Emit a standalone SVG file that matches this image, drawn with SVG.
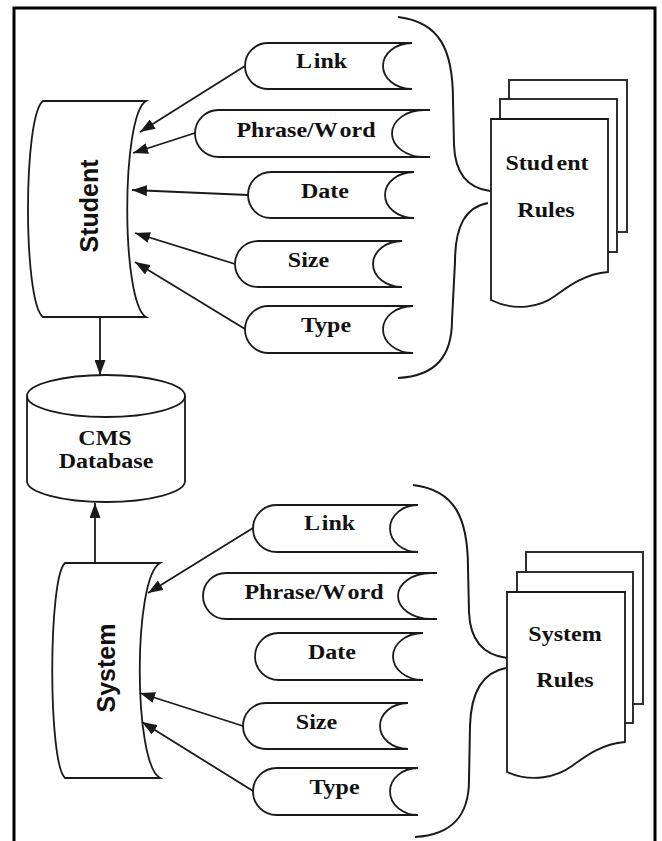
<svg xmlns="http://www.w3.org/2000/svg" width="662" height="841" viewBox="0 0 662 841">
  <style>
    .shape { fill: #ffffff; stroke: #1a1a1a; stroke-width: 1.8; }
    .line { fill: none; stroke: #1a1a1a; stroke-width: 1.8; }
    .brace { fill: none; stroke: #1a1a1a; stroke-width: 2; }
    .frame { fill: none; stroke: #000000; stroke-width: 3; }
    .lbl { font-family: "Liberation Serif", "Times New Roman", serif; font-weight: bold; font-size: 20px; fill: #111111; text-anchor: middle; }
    .side { font-family: "Liberation Sans", Arial, sans-serif; font-weight: bold; font-size: 25px; fill: #111111; text-anchor: middle; }
    .conn { fill: none; stroke: #1a1a1a; stroke-width: 1.8; marker-end: url(#arrow); }
  </style>
  <defs>
    <marker id="arrow" viewBox="0 0 15 11" refX="15" refY="5.5" markerWidth="15" markerHeight="11" markerUnits="userSpaceOnUse" orient="auto">
      <path d="M0,0 L15,5.5 L0,11 Z" fill="#1a1a1a"/>
    </marker>
  </defs>

  <rect width="662" height="841" fill="#ffffff"/>
  <path class="frame" d="M14,841 V8 H655 V841"/>

  <!-- Student source (stored-data shape, vertical) -->
  <g id="student">
    <path class="shape" d="M43,101 H146 C121,116 121,302 146,317 H43 C23,302 23,116 43,101 Z"/>
    <text class="side" transform="translate(98,206) rotate(-90)">Student</text>
  </g>

  <!-- System source -->
  <g id="system">
    <path class="shape" d="M65,563 H160 C133,578 133,763 160,778 H65 C48,763 48,578 65,563 Z"/>
    <text class="side" transform="translate(115,668) rotate(-90)">System</text>
  </g>

  <!-- CMS database cylinder -->
  <g id="cms-db">
    <path class="shape" d="M27,396 A79 21 0 0 1 185,396 V481 A79 21 0 0 1 27,481 Z"/>
    <path class="line" d="M27,396 A79 21 0 0 0 185,396"/>
    <text class="lbl" transform="translate(105,445) scale(1.2,1)">CMS</text>
    <text class="lbl" transform="translate(106,468) scale(1.2,1)">Database</text>
  </g>

  <!-- Student attribute terminals -->
  <g id="s-link">
    <path class="shape" d="M268,43 H412 A29 23 0 0 0 412,89 H268 A23 23 0 0 1 268,43 Z"/>
    <text class="lbl" transform="translate(321.5,68) scale(1.2,1)">L<tspan dx="1.5">ink</tspan></text>
  </g>
  <g id="s-phrase">
    <path class="shape" d="M218.5,110 H424 A32 23.5 0 0 0 424,157 H218.5 A23.5 23.5 0 0 1 218.5,110 Z"/>
    <path class="line" d="M424,110 H430 M424,157 H430"/>
    <text class="lbl" transform="translate(306,137) scale(1.2,1)">Phrase/W<tspan dx="1.5">ord</tspan></text>
  </g>
  <g id="s-date">
    <path class="shape" d="M271,172 H414 A29 23 0 0 0 414,218 H271 A23 23 0 0 1 271,172 Z"/>
    <text class="lbl" transform="translate(325,198) scale(1.2,1)">Date</text>
  </g>
  <g id="s-size">
    <path class="shape" d="M258,241 H402 A29 23 0 0 0 402,287 H258 A23 23 0 0 1 258,241 Z"/>
    <text class="lbl" transform="translate(308.5,267) scale(1.2,1)">Size</text>
  </g>
  <g id="s-type">
    <path class="shape" d="M268.5,306 H413 A30 23.5 0 0 0 413,353 H268.5 A23.5 23.5 0 0 1 268.5,306 Z"/>
    <text class="lbl" transform="translate(326,332) scale(1.2,1)">Type</text>
  </g>

  <!-- System attribute terminals -->
  <g id="y-link">
    <path class="shape" d="M276.5,505 H418 A28 23.5 0 0 0 418,552 H276.5 A23.5 23.5 0 0 1 276.5,505 Z"/>
    <text class="lbl" transform="translate(329.5,530) scale(1.2,1)">L<tspan dx="1.5">ink</tspan></text>
  </g>
  <g id="y-phrase">
    <path class="shape" d="M226,573 H431 A33 23 0 0 0 431,619 H226 A23 23 0 0 1 226,573 Z"/>
    <path class="line" d="M431,573 H437 M431,619 H437"/>
    <text class="lbl" transform="translate(314,599) scale(1.2,1)">Phrase/W<tspan dx="1.5">ord</tspan></text>
  </g>
  <g id="y-date">
    <path class="shape" d="M278.5,633 H423 A30 23.5 0 0 0 423,680 H278.5 A23.5 23.5 0 0 1 278.5,633 Z"/>
    <text class="lbl" transform="translate(332,659) scale(1.2,1)">Date</text>
  </g>
  <g id="y-size">
    <path class="shape" d="M266,703 H408 A28 23 0 0 0 408,749 H266 A23 23 0 0 1 266,703 Z"/>
    <text class="lbl" transform="translate(316.5,729) scale(1.2,1)">Size</text>
  </g>
  <g id="y-type">
    <path class="shape" d="M276.5,768 H418 A28 23.5 0 0 0 418,815 H276.5 A23.5 23.5 0 0 1 276.5,768 Z"/>
    <text class="lbl" transform="translate(334.5,794) scale(1.2,1)">Type</text>
  </g>

  <!-- Student rules document stack -->
  <g id="student-rules">
    <rect class="shape" x="509" y="80" width="118" height="152"/>
    <rect class="shape" x="500" y="99" width="117" height="153"/>
    <path class="shape" d="M491,119 H608 V272 C585,274 570,285 555,296 C540,307 515,312 491,300 Z"/>
    <text class="lbl" transform="translate(547,170) scale(1.2,1)">Stud<tspan dx="2.5">ent</tspan></text>
    <text class="lbl" transform="translate(546,217) scale(1.2,1)">Rules</text>
  </g>

  <!-- System rules document stack -->
  <g id="system-rules">
    <rect class="shape" x="526" y="552" width="117" height="152"/>
    <rect class="shape" x="517" y="572" width="116" height="151"/>
    <path class="shape" d="M507,592 H625 V742 C602,744 587,755 572,766 C557,777 532,783 507,772 Z"/>
    <text class="lbl" transform="translate(565,641) scale(1.2,1)">System</text>
    <text class="lbl" transform="translate(565,687) scale(1.2,1)">Rules</text>
  </g>

  <!-- Braces grouping attributes under each rule set -->
  <g id="braces">
    <path class="brace" d="M398,17 C440,22 453,50 453,100 L454,145 C455,172 467,188 490,191 M488,203 C466,207 455,225 455,262 L452,320 C452,356 436,376 398,378"/>
    <path class="brace" d="M413,485 C455,490 468,518 468,568 L469,612 C470,640 483,655 507,658 M506,668 C484,672 471,690 470,726 L469,780 C469,816 452,835 415,837"/>
  </g>

  <!-- Connectors -->
  <g id="connectors">
    <path class="conn" d="M245,66 L140,132"/>
    <path class="conn" d="M195,133 L133,153"/>
    <path class="conn" d="M248,195 L132,190"/>
    <path class="conn" d="M235,264 L135,233"/>
    <path class="conn" d="M245,329 L135,262"/>
    <path class="conn" d="M100,317 L100,375"/>
    <path class="conn" d="M95,563 L95,503"/>
    <path class="conn" d="M253,528 L148,593"/>
    <path class="conn" d="M243,726 L140,693"/>
    <path class="conn" d="M253,791 L142,722"/>
  </g>
</svg>
